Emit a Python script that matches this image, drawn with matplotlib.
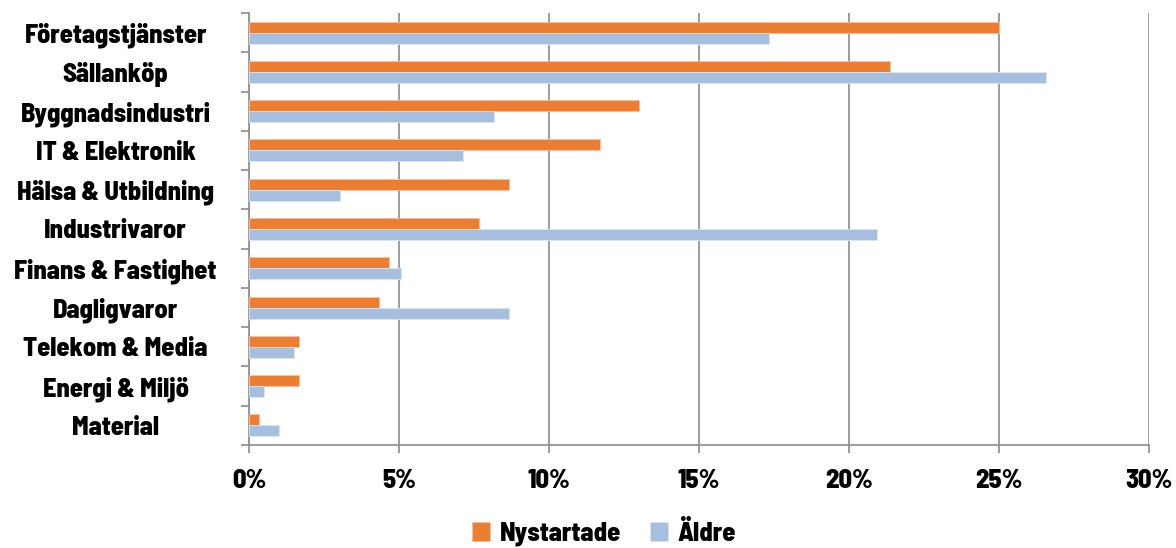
import matplotlib
matplotlib.use("Agg")
import matplotlib.pyplot as plt
from matplotlib.ticker import FuncFormatter
import numpy as np

categories = ["Företagstjänster", "Sällanköp", "Byggnadsindustri", "IT & Elektronik",
              "Hälsa & Utbildning", "Industrivaror", "Finans & Fastighet", "Dagligvaror",
              "Telekom & Media", "Energi & Miljö", "Material"]
nystartade = [25.0, 21.35, 13.0, 11.7, 8.67, 7.67, 4.67, 4.33, 1.67, 1.67, 0.33]
aldre = [17.33, 26.55, 8.15, 7.13, 3.03, 20.93, 5.07, 8.67, 1.5, 0.5, 1.0]
series_names = ["Nystartade", "Äldre"]
xticks = [0, 5, 10, 15, 20, 25, 30]

plt.rcParams['font.family'] = ['Barlow Semi Condensed', 'DejaVu Sans']
plt.rcParams['font.weight'] = 800

fig = plt.figure(figsize=(11.76, 5.48), dpi=100)
ax = fig.add_axes([249/1176, 1 - 445/548, 900/1176, 432/548])

y = np.arange(len(categories))
h = 0.28
ax.barh(y - h/2, nystartade, height=h, color="#ED7D31", edgecolor="#F6C2A0", linewidth=0.6,
        label=series_names[0], zorder=3)
ax.barh(y + h/2, aldre, height=h, color="#A7BFDE", edgecolor="#DCE6F2", linewidth=0.6,
        label=series_names[1], zorder=3)

ax.set_xlim(0, 30)
ax.set_ylim(len(categories) - 0.5, -0.5)
ax.set_xticks(xticks)
ax.xaxis.set_major_formatter(FuncFormatter(lambda v, p: f"{int(v)}%"))
ax.grid(axis="x", color="#8C8C8C", linewidth=1.2, zorder=0)

ax.set_yticks(np.arange(len(categories) + 1) - 0.5, minor=False)
ax.set_yticklabels([])
ax.set_yticks(y, minor=True)
ax.set_yticklabels(categories, minor=True, ha="center")
ax.tick_params(axis="y", which="major", length=6, color="#8C8C8C", width=1.2)
ax.tick_params(axis="y", which="minor", length=0, pad=96, labelsize=19)
ax.tick_params(axis="x", length=6, color="#8C8C8C", width=1.2, labelsize=19, pad=11)

for s in ["top", "right"]:
    ax.spines[s].set_visible(False)
for s in ["left", "bottom"]:
    ax.spines[s].set_color("#8C8C8C")
    ax.spines[s].set_linewidth(1.2)

fig.legend(loc="lower center", bbox_to_anchor=(604/1176, -0.04), ncol=2, frameon=False,
           fontsize=19, handlelength=0.7, handleheight=0.7, handletextpad=0.35,
           columnspacing=1.1)

fig.savefig("out.png", dpi=100)
